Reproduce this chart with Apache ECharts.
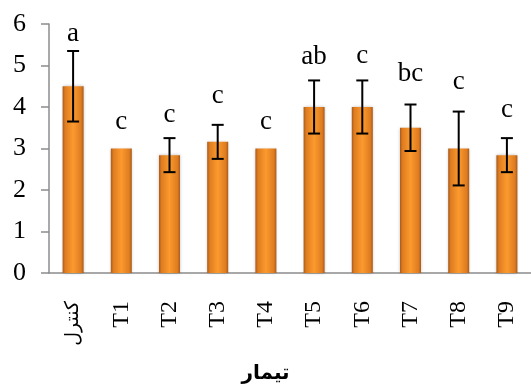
<!DOCTYPE html>
<html><head><meta charset="utf-8">
<script src="https://cdn.jsdelivr.net/npm/echarts@6/dist/echarts.min.js"></script>
<style>html,body{margin:0;padding:0;background:#fff}#c{width:531px;height:388px}</style>
</head><body><div id="c"></div>
<script>
const categories = ['کنترل','T1','T2','T3','T4','T5','T6','T7','T8','T9'];
const means = [4.5, 3.0, 2.84, 3.16, 3.0, 4.0, 4.0, 3.5, 3.0, 2.84];
const errors = [0.85, 0, 0.41, 0.41, 0, 0.64, 0.64, 0.56, 0.89, 0.41];
const letters = ['a','c','c','c','c','ab','c','bc','c','c'];
const letterHeights = [5.57, 3.45, 3.62, 4.08, 3.45, 5.02, 5.06, 4.61, 4.42, 3.74];
const yTicks = [0,1,2,3,4,5,6];

const chart = echarts.init(document.getElementById('c'), null, {renderer:'canvas'});
const serif = "'Liberation Serif','Times New Roman',serif";
const barGrad = new echarts.graphic.LinearGradient(0,0,1,0,[
  {offset:0,color:'#a85a1c'},{offset:0.12,color:'#de7c20'},{offset:0.5,color:'#fc9a2e'},
  {offset:0.88,color:'#de7c20'},{offset:1,color:'#a85a1c'}]);

chart.setOption({
  animation:false,
  grid:{left:49, top:24, width:484, height:249, containLabel:false},
  xAxis:{type:'category', data:categories,
    axisLine:{lineStyle:{color:'#8c8c8c',width:1.5}},
    axisTick:{length:7, lineStyle:{color:'#8c8c8c',width:1.5}},
    axisLabel:{rotate:90, margin:28, fontSize:24, color:'#000',
      fontFamily:serif,
      formatter:v=>/^[A-Za-z0-9]+$/.test(v)?v:'{p|'+v+'}',
      rich:{p:{fontSize:19, fontFamily:"'DejaVu Sans',sans-serif", color:'#000'}}}},
  yAxis:{type:'value', min:0, max:6, interval:1,
    splitLine:{show:false},
    axisLine:{show:true, lineStyle:{color:'#8c8c8c',width:1.5}},
    axisTick:{show:true, length:8, lineStyle:{color:'#8c8c8c',width:1.5}},
    axisLabel:{fontSize:26, color:'#000', fontFamily:serif, margin:23,
      formatter:v=>yTicks.includes(v)?String(v):''}},
  graphic:[{type:'text', left:'center', top:364,
    style:{text:'تیمار', fontSize:20, fontWeight:'bold', fill:'#000', fontFamily:"'DejaVu Sans',sans-serif"}}],
  series:[
    {type:'bar', data:means, barWidth:21,
      itemStyle:{color:barGrad, shadowColor:'rgba(0,0,0,0.25)', shadowBlur:3}},
    {type:'custom', data:means.map((m,i)=>[i,m,errors[i],letterHeights[i]]),
      encode:{x:0,y:1}, z:5,
      renderItem:function(params, api){
        const i=api.value(0), m=api.value(1), e=api.value(2), lh=api.value(3);
        const children=[];
        const c=api.coord([i,m]);
        if(e>0){
          const hi=api.coord([i,m+e]), lo=api.coord([i,m-e]);
          const hw=6;
          const st={stroke:'#000', lineWidth:2};
          children.push({type:'line', shape:{x1:c[0],y1:hi[1],x2:c[0],y2:lo[1]}, style:st});
          children.push({type:'line', shape:{x1:c[0]-hw,y1:hi[1],x2:c[0]+hw,y2:hi[1]}, style:st});
          children.push({type:'line', shape:{x1:c[0]-hw,y1:lo[1],x2:c[0]+hw,y2:lo[1]}, style:st});
        }
        const lp=api.coord([i,lh]);
        children.push({type:'text', x:c[0], y:lp[1]+6,
          style:{text:letters[params.dataIndex], fontSize:27, fontFamily:serif, fill:'#000',
            align:'center', verticalAlign:'bottom'}});
        return {type:'group', children};
      }}
  ]
});
</script></body></html>
